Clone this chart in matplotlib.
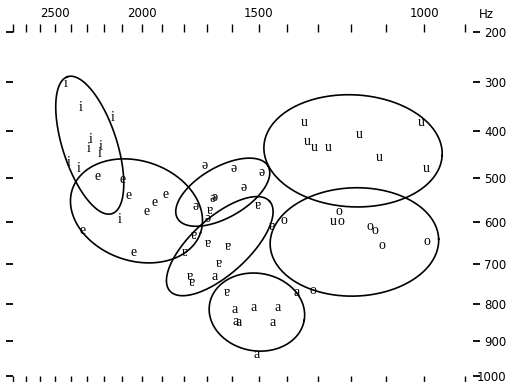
import numpy as np
import matplotlib
matplotlib.use("Agg")
import matplotlib.pyplot as plt


def bark(f):
    f = np.asarray(f, dtype=float)
    return 13 * np.arctan(0.00076 * f) + 3.5 * np.arctan((f / 7500.0) ** 2)


# vowel tokens: F2 (Hz), F1 (Hz)
i_f2 = [2430, 2340, 2150, 2280, 2290, 2220, 2225, 2410, 2350, 2115]
i_f1 = [302, 352, 373, 417, 438, 432, 447, 466, 479, 594]
e_f2 = [2240, 2100, 2065, 1885, 1935, 1975, 2325, 2040]
e_f1 = [498, 503, 540, 538, 556, 576, 618, 672]
schwa_f2 = [1710, 1595, 1490, 1555, 1680, 1672, 1750, 1698]
schwa_f1 = [473, 481, 488, 521, 547, 543, 565, 592]
turned_a_f2 = [1505, 1690, 1455, 1757, 1698, 1617, 1796, 1653, 1774, 1766, 1620]
turned_a_f1 = [561, 574, 611, 630, 650, 658, 672, 697, 729, 744, 769]
a_f2 = [1670, 1370, 1590, 1519, 1434, 1586, 1575, 1451, 1509]
a_f1 = [729, 771, 813, 808, 808, 845, 850, 850, 936]
o_f2 = [1317, 1413, 1236, 1230, 1146, 1132, 1112, 993]
o_f1 = [766, 597, 576, 599, 611, 620, 655, 646]
u_f2 = [1343, 1336, 1313, 1267, 1177, 1009, 1120, 996, 1252]
u_f1 = [383, 423, 434, 434, 408, 383, 457, 481, 599]

vowels = [("i", i_f2, i_f1), ("e", e_f2, e_f1), ("ə", schwa_f2, schwa_f1),
          ("ɐ", turned_a_f2, turned_a_f1), ("a", a_f2, a_f1),
          ("o", o_f2, o_f1), ("u", u_f2, u_f1)]

# ellipses: F2 centre, F1 centre (Hz), semi axes (bark), angle (deg)
ell_f2 = [2283, 2026, 1637, 1649, 1507, 1194, 1190]
ell_f1 = [430, 574, 532, 656, 821, 442, 646]
ell_a = [1.17, 1.10, 0.85, 1.09, 0.78, 1.45, 1.37]
ell_b = [0.44, 0.81, 0.41, 0.46, 0.63, 0.91, 0.88]
ell_ang = [108, -19, 30, 42, -10, -3, 2]

xticks_hz = list(range(2800, 899, -100))
xlabels_hz = [2500, 2000, 1500, 1000]
yticks_hz = list(range(200, 1001, 100))

fig = plt.figure(figsize=(5.09, 3.82), dpi=100)
ax = fig.add_axes([13 / 509, 6 / 382, 452 / 509, 344 / 382])

ax.set_xlim(bark(2800), bark(900))
ax.set_ylim(bark(1000), bark(200))

for sym, f2, f1 in vowels:
    for x, y in zip(f2, f1):
        ax.text(bark(x), bark(y), sym, ha="center", va="center", fontsize=10,
                family=["Liberation Serif", "DejaVu Serif"])

# px per bark on each axis so ellipses keep their visual shape
bb = ax.get_window_extent()
sx = bb.width / (bark(2800) - bark(900))
sy = bb.height / (bark(1000) - bark(200))
t = np.linspace(0, 2 * np.pi, 300)
for cx, cy, a, b, ang in zip(ell_f2, ell_f1, ell_a, ell_b, ell_ang):
    th = np.radians(ang)
    du = a * np.cos(t) * np.cos(th) - b * np.sin(t) * np.sin(th)
    dv = a * np.cos(t) * np.sin(th) + b * np.sin(t) * np.cos(th)
    ax.plot(bark(cx) - du, bark(cy) - dv * sx / sy, color="black", lw=1.2)

for s in ax.spines.values():
    s.set_visible(False)
ax.spines["right"].set_position(("outward", 6))

ax.set_xticks(bark(xticks_hz))
ax.set_xticklabels([str(f) if f in xlabels_hz else "" for f in xticks_hz])
ax.set_yticks(bark(yticks_hz))
ax.set_yticklabels([str(f) for f in yticks_hz])

ax.tick_params(axis="x", top=True, bottom=True, labeltop=True, labelbottom=False,
               direction="out", length=6, width=1, labelsize=8.5, pad=3)
ax.tick_params(axis="y", left=True, right=True, labelleft=False, labelright=True,
               direction="out", length=5, width=1.3, labelsize=8.5, pad=19)
for tk in ax.yaxis.get_major_ticks():
    tk.label2.set_horizontalalignment("right")

fig.text(486 / 509, 1 - 15 / 382, "Hz", ha="center", va="center", fontsize=8.5)

fig.savefig("out.png", dpi=100)
